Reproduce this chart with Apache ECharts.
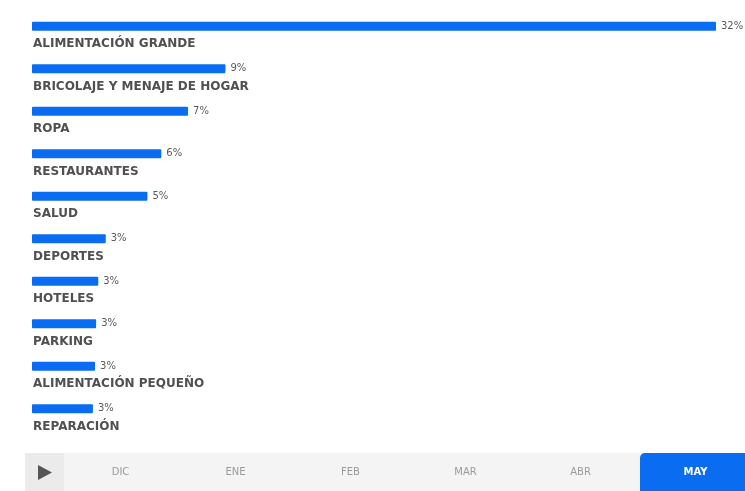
<!DOCTYPE html>
<html>
<head>
<meta charset="utf-8">
<script src="https://cdn.jsdelivr.net/npm/echarts@6/dist/echarts.min.js"></script>
<style>
  html, body { margin: 0; padding: 0; background: #fff; }
  #chart { width: 745px; height: 491px; }
</style>
</head>
<body>
<div id="chart"></div>
<script>
var categories = [
  'ALIMENTACIÓN GRANDE',
  'BRICOLAJE Y MENAJE DE HOGAR',
  'ROPA',
  'RESTAURANTES',
  'SALUD',
  'DEPORTES',
  'HOTELES',
  'PARKING',
  'ALIMENTACIÓN PEQUEÑO',
  'REPARACIÓN'
];
var shares = [32, 9.05, 7.3, 6.05, 5.4, 3.45, 3.1, 3.0, 2.95, 2.85];
var months = ['DIC', 'ENE', 'FEB', 'MAR', 'ABR', 'MAY'];
var selectedMonth = 'MAY';

var chart = echarts.init(document.getElementById('chart'), null, { renderer: 'canvas' });

var tabStart = 63, tabW = 115, barTop = 453, barH = 38;
var graphics = [
  { type: 'rect', shape: { x: 25, y: barTop, width: 720, height: barH }, style: { fill: '#f4f4f4' }, silent: true },
  { type: 'rect', shape: { x: 25, y: barTop, width: 39, height: barH }, style: { fill: '#ebebeb' }, silent: true },
  { type: 'polygon', shape: { points: [[38, 465], [38, 480], [52, 472.5]] }, style: { fill: '#555' }, silent: true }
];
months.forEach(function (m, i) {
  var x0 = tabStart + i * tabW;
  var sel = m === selectedMonth;
  if (sel) {
    graphics.push({ type: 'rect', shape: { x: x0 + 2, y: barTop, width: tabW + 20, height: barH, r: [5, 0, 0, 0] },
      style: { fill: '#0a6cf0' }, silent: true });
  }
  graphics.push({
    type: 'text', x: x0 + tabW / 2, y: barTop + barH / 2,
    style: {
      text: m, fill: sel ? '#fff' : '#9a9a9a', font: (sel ? 'bold ' : 'normal ') + '10px "DejaVu Sans"',
      textAlign: 'center', textVerticalAlign: 'middle'
    },
    silent: true
  });
});

chart.setOption({
  animation: false,
  grid: { left: 32, right: 29, top: 5, height: 425, containLabel: false },
  xAxis: {
    type: 'value', min: 0, max: 32, show: false
  },
  yAxis: {
    type: 'category', inverse: true, data: categories,
    axisLine: { show: false }, axisTick: { show: false },
    axisLabel: {
      inside: true, margin: 1, align: 'left', verticalAlign: 'top',
      padding: [12, 0, 0, 0], lineHeight: 12,
      color: '#505050', fontFamily: 'DejaVu Sans', fontWeight: 'bold', fontSize: 12
    }
  },
  series: [{
    type: 'bar', data: shares, barWidth: 9,
    itemStyle: { color: '#0a6cf0', borderRadius: 1 },
    label: {
      show: true, position: 'right', distance: 5,
      formatter: function (p) { return Math.round(p.value) + '%'; },
      color: '#5a5a5a', fontFamily: 'DejaVu Sans', fontSize: 10
    }
  }],
  graphic: graphics
});
</script>
</body>
</html>
